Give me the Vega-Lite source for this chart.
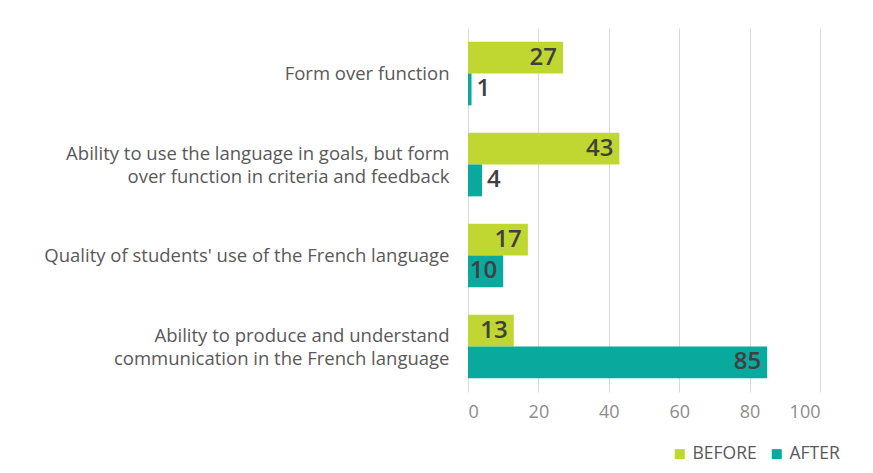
{
  "$schema": "https://vega.github.io/schema/vega-lite/v6.json",
  "width": 352,
  "height": 364,
  "autosize": "none",
  "padding": {"left": 468, "top": 28, "right": 53, "bottom": 81},
  "background": "white",
  "config": {
    "font": "Open Sans",
    "view": {"stroke": null}
  },
  "data": {
    "values": [
      {"category": "Form over function", "series": "BEFORE", "value": 27},
      {"category": "Form over function", "series": "AFTER", "value": 1},
      {"category": "Ability to use the language in goals, but form|over function in criteria and feedback", "series": "BEFORE", "value": 43},
      {"category": "Ability to use the language in goals, but form|over function in criteria and feedback", "series": "AFTER", "value": 4},
      {"category": "Quality of students' use of the French language", "series": "BEFORE", "value": 17},
      {"category": "Quality of students' use of the French language", "series": "AFTER", "value": 10},
      {"category": "Ability to produce and understand|communication in the French language", "series": "BEFORE", "value": 13},
      {"category": "Ability to produce and understand|communication in the French language", "series": "AFTER", "value": 85}
    ]
  },
  "encoding": {
    "y": {
      "field": "category",
      "type": "nominal",
      "sort": null,
      "scale": {"paddingInner": 0.3, "paddingOuter": 0.15},
      "axis": {
        "title": null,
        "domain": false,
        "ticks": false,
        "labelPadding": 19,
        "labelFontSize": 18.5,
        "labelColor": "#595959",
        "labelLimit": 500,
        "labelLineHeight": 23,
        "labelOffset": {"condition": {"test": "indexof(datum.value, '|') >= 0", "value": -11}, "value": 0},
        "labelExpr": "split(datum.label, '|')"
      }
    },
    "yOffset": {"field": "series", "type": "nominal", "sort": ["BEFORE", "AFTER"]},
    "x": {
      "field": "value",
      "type": "quantitative",
      "scale": {"domain": [0, 100], "nice": false},
      "axis": {
        "title": null,
        "domain": false,
        "ticks": false,
        "grid": true,
        "gridColor": "#d9d9d9",
        "gridWidth": 1,
        "values": [0, 20, 40, 60, 80, 100],
        "labelFontSize": 18,
        "labelColor": "#8c8c8c",
        "labelPadding": 11
      }
    }
  },
  "layer": [
    {
      "mark": {"type": "bar"},
      "encoding": {
        "color": {
          "field": "series",
          "type": "nominal",
          "scale": {"domain": ["BEFORE", "AFTER"], "range": ["#BFD730", "#0AA99E"]},
          "legend": {
            "title": null,
            "orient": "none",
            "legendX": 203,
            "legendY": 417,
            "direction": "horizontal",
            "symbolType": "square",
            "symbolSize": 100,
            "symbolStrokeWidth": 0,
            "labelFontSize": 17.5,
            "labelColor": "#595959",
            "labelOffset": 4,
            "columnPadding": 11
          }
        }
      }
    },
    {
      "transform": [{"filter": "datum.value >= 10"}],
      "mark": {"type": "text", "align": "right", "baseline": "middle", "dx": -6, "fontSize": 24, "fontWeight": 600, "color": "#404040"},
      "encoding": {"text": {"field": "value", "type": "quantitative"}}
    },
    {
      "transform": [{"filter": "datum.value < 10"}],
      "mark": {"type": "text", "align": "left", "baseline": "middle", "dx": 5, "fontSize": 24, "fontWeight": 600, "color": "#404040"},
      "encoding": {"text": {"field": "value", "type": "quantitative"}}
    }
  ]
}
